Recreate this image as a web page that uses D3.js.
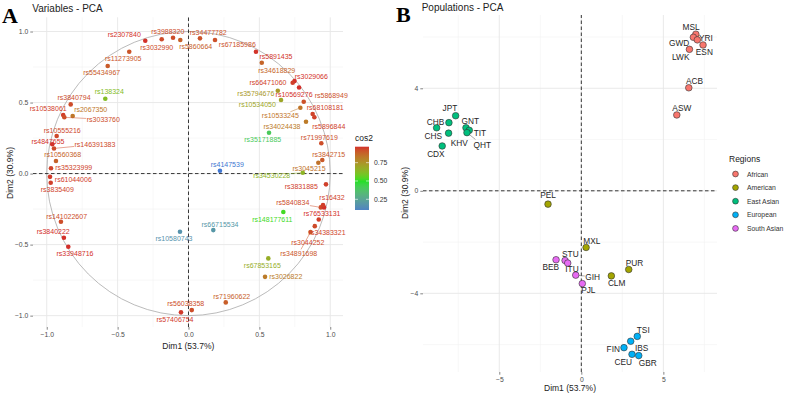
<!DOCTYPE html>
<html>
<head>
<meta charset="utf-8">
<script src="https://cdn.jsdelivr.net/npm/d3@7"></script>
<style>
  body { margin: 0; background: #fff; }
  svg text { font-family: "Liberation Sans", Arial, sans-serif; }
</style>
</head>
<body>
<svg id="chart" width="794" height="397"></svg>
<script>
//////////////////////////
// Data: variables PCA  //
//////////////////////////
const varNames = [
  "rs2307840", "rs3032990", "rs3988320", "rs5860664", "rs34477782", "rs67185986",
  "rs11273905", "rs55434967", "rs138324", "rs3840794", "rs10538061", "rs3033760",
  "rs2067350", "rs10555216", "rs4847655", "rs146391383", "rs10560368", "rs35323999",
  "rs61044006", "rs3835409", "rs141022607", "rs3840222", "rs33948716", "rs57406754",
  "rs56038358", "rs71960622", "rs3026822", "rs67853165", "rs34891698", "rs3044252",
  "rs34383321", "rs148177611", "rs5840834", "rs76533131", "rs16432", "rs3831885",
  "rs34530228", "rs3045215", "rs3842715", "rs71997619", "rs35171885", "rs34024438",
  "rs5896844", "rs68108181", "rs10533245", "rs5868949", "rs10534050", "rs35794676",
  "rs10569276", "rs3029066", "rs66471060", "rs34618829", "rs5891435", "rs4147539",
  "rs66715534", "rs10580743"
];
const varDim1 = [
  -0.305, -0.189, -0.109, -0.058, 0.081, 0.187,
  -0.418, -0.570, -0.587, -0.831, -0.884, -0.876,
  -0.817, -0.930, -0.961, -0.949, -0.935, -0.970,
  -0.977, -0.972, -0.900, -0.879, -0.848, -0.053,
  0.023, 0.263, 0.540, 0.563, 0.861, 0.891,
  0.919, 0.669, 0.933, 0.956, 0.949, 0.970,
  0.806, 0.916, 0.944, 0.937, 0.568, 0.829,
  0.888, 0.876, 0.789, 0.813, 0.653, 0.630,
  0.780, 0.748, 0.735, 0.517, 0.476, 0.222,
  0.175, -0.060
];
const varDim2 = [
  0.935, 0.945, 0.956, 0.940, 0.952, 0.940,
  0.858, 0.757, 0.527, 0.487, 0.412, 0.396,
  0.405, 0.264, 0.206, 0.177, 0.088, 0.037,
  -0.023, -0.065, -0.339, -0.452, -0.515, -0.977,
  -0.961, -0.907, -0.727, -0.597, -0.412, -0.370,
  -0.323, -0.271, -0.238, -0.238, -0.222, -0.076,
  0.006, 0.076, 0.095, 0.213, 0.287, 0.365,
  0.396, 0.419, 0.463, 0.506, 0.518, 0.583,
  0.606, 0.651, 0.639, 0.780, 0.858, 0.020,
  -0.398, -0.410
];
const cos2Ticks = [0.25, 0.5, 0.75];
const cos2Range = [0.104, 0.968];

////////////////////////////
// Data: populations PCA  //
////////////////////////////
const popNames = [
  "MSL", "GWD", "YRI", "ESN", "LWK", "ACB", "ASW",
  "PEL", "MXL", "PUR", "CLM",
  "JPT", "CHB", "CHS", "KHV", "CDX", "GNT", "TIT", "QHT",
  "TSI", "IBS", "FIN", "CEU", "GBR",
  "BEB", "STU", "ITU", "GIH", "PJL"
];
const popRegion = [
  "African", "African", "African", "African", "African", "African", "African",
  "American", "American", "American", "American",
  "East Asian", "East Asian", "East Asian", "East Asian", "East Asian", "East Asian", "East Asian", "East Asian",
  "European", "European", "European", "European", "European",
  "South Asian", "South Asian", "South Asian", "South Asian", "South Asian"
];
const popDim1 = [
  6.98, 6.83, 7.07, 7.42, 6.59, 6.55, 5.82,
  -2.03, 0.29, 2.89, 1.83,
  -7.66, -8.07, -8.82, -8.09, -8.48, -7.03, -6.83, -6.97,
  3.41, 3.01, 2.60, 3.09, 3.50,
  -1.54, -0.99, -0.83, -0.34, 0.06
];
const popDim2 = [
  6.11, 5.99, 5.89, 5.69, 5.52, 4.02, 2.96,
  -0.52, -2.21, -3.07, -3.32,
  2.93, 2.66, 2.46, 2.25, 1.75, 2.46, 2.36, 2.27,
  -5.68, -5.87, -6.12, -6.38, -6.43,
  -2.69, -2.72, -2.82, -3.29, -3.62
];
const regions = ["African", "American", "East Asian", "European", "South Asian"];
const regionColors = ["#F8766D", "#A3A500", "#00BF7D", "#00B0F6", "#E76BF3"];

// label placement (pixel nudge from the point, like ggrepel gave)
const varNudge = {
  rs2307840: [-21, -6.4], rs3032990: [-5, 8], rs3988320: [-5.3, -6], rs5860664: [15.4, 6],
  rs34477782: [8.3, -5.6], rs67185986: [22.3, 4.3], rs11273905: [-6, 6.6], rs55434967: [-6, 6.3],
  rs138324: [4, -7], rs3840794: [3.3, -6.6], rs10538061: [-15, -6.7], rs3033760: [39, 2],
  rs2067350: [18, -7], rs10555216: [5.6, -6], rs4847655: [-4.3, -2.8], rs146391383: [41, -4],
  rs10560368: [6.7, -6.7], rs35323999: [22.7, -1], rs61044006: [23.3, 2.3], rs3835409: [6.6, 6.6],
  rs141022607: [5.7, -5.7], rs3840222: [-10.7, -6.7], rs33948716: [6.7, 6.6], rs57406754: [-6, 6.7],
  rs56038358: [-6, -6.7], rs71960622: [6, -6.3], rs3026822: [20.7, -0.7], rs67853165: [-6, 6.7],
  rs34891698: [-11.8, 21.3], rs3044252: [-7, 16.3], rs34383321: [8.3, 13], rs148177611: [-11, 7],
  rs5840834: [-28, -4.6], rs76533131: [-2, 6], rs16432: [9, -7.7], rs3831885: [-24.7, 2.4],
  rs34530228: [-31, 2.3], rs3045215: [-9.3, 5.8], rs3842715: [6.4, -6], rs71997619: [-2, -5.6],
  rs35171885: [-6.3, 6.3], rs34024438: [-24, 5], rs5896844: [14.4, 9.4], rs68108181: [12.6, -6.3],
  rs10533245: [-20, 8], rs5868949: [27.5, -6], rs10534050: [-23.7, 4.3], rs35794676: [-22, 2.6],
  rs10569276: [-5, 6.8], rs3029066: [16.8, -4.5], rs66471060: [-24.7, 0], rs34618829: [15, 7.3],
  rs5891435: [20, 5], rs4147539: [7.3, -6.7], rs66715534: [6.7, -6], rs10580743: [-6, 6.6]
};
const varSegments = ["rs3033760", "rs146391383", "rs34530228", "rs5840834", "rs10533245", "rs34891698"];

const popNudge = {
  MSL: [-4.7, -7.7], GWD: [-14.3, 5.3], YRI: [8.7, -1.7], ESN: [1.3, 7.3], LWK: [-8.7, 7.3],
  ACB: [5.7, -7], ASW: [5, -6.7], PEL: [0, -9], MXL: [5.7, -6.7], PUR: [5.7, -6.7], CLM: [5.3, 7],
  JPT: [-5.7, -7.3], CHB: [-13.3, -1], CHS: [-3.3, 8.3], KHV: [10.7, 9.7], CDX: [-6.3, 8],
  GNT: [4.3, -7], TIT: [10.7, 2.3], QHT: [15.3, 12.3],
  TSI: [6, -6.7], IBS: [11, 6.7], FIN: [-10.7, 1.7], CEU: [-8.7, 7.3], GBR: [9, 7.3],
  BEB: [-5.3, 7], STU: [5.3, -6.7], ITU: [4.3, 5.7], GIH: [17, 1.7], PJL: [6, 6.7]
};
const popSegments = ["QHT", "GIH"];

const svg = d3.select("#chart");
const gridMajor = "#e6e6e6", gridMinor = "#f1f1f1", tickCol = "#4d4d4d";

// segment from point to the edge of a label's box
function leader(g, px, py, textNode, color, r) {
  const b = textNode.getBBox();
  const cx = b.x + b.width / 2, cy = b.y + b.height / 2;
  const dx = cx - px, dy = cy - py;
  const s = Math.min((b.width / 2 + 0.5) / Math.abs(dx || 1e-6), (b.height / 2 + 0.5) / Math.abs(dy || 1e-6));
  if (s >= 1) return;
  const len = Math.hypot(dx, dy);
  g.append("line")
    .attr("x1", px + (dx / len) * r).attr("y1", py + (dy / len) * r)
    .attr("x2", cx - s * dx).attr("y2", cy - s * dy)
    .attr("stroke", color).attr("stroke-width", 0.5);
}

function drawGrid(g, x, y, xMajor, xMinor, yMajor, yMinor) {
  const [x0, x1] = x.range(), [y0, y1] = y.range();
  g.selectAll(".xmin").data(xMinor).join("line")
    .attr("x1", x).attr("x2", x).attr("y1", y0).attr("y2", y1)
    .attr("stroke", gridMinor).attr("stroke-width", 0.6);
  g.selectAll(".ymin").data(yMinor).join("line")
    .attr("y1", y).attr("y2", y).attr("x1", x0).attr("x2", x1)
    .attr("stroke", gridMinor).attr("stroke-width", 0.6);
  g.selectAll(".xmaj").data(xMajor).join("line")
    .attr("x1", x).attr("x2", x).attr("y1", y0).attr("y2", y1)
    .attr("stroke", gridMajor).attr("stroke-width", 0.9);
  g.selectAll(".ymaj").data(yMajor).join("line")
    .attr("y1", y).attr("y2", y).attr("x1", x0).attr("x2", x1)
    .attr("stroke", gridMajor).attr("stroke-width", 0.9);
}

function drawAxes(g, x, y, xTicks, yTicks, fmt) {
  const xa = g.append("g")
    .attr("transform", `translate(0,${y.range()[0]})`)
    .call(d3.axisBottom(x).tickValues(xTicks).tickFormat(fmt).tickSize(2.7).tickSizeOuter(0).tickPadding(2));
  const ya = g.append("g")
    .attr("transform", `translate(${x.range()[0]},0)`)
    .call(d3.axisLeft(y).tickValues(yTicks).tickFormat(fmt).tickSize(2.7).tickSizeOuter(0).tickPadding(2));
  [xa, ya].forEach((a) => {
    a.select(".domain").remove();
    a.selectAll(".tick line").attr("stroke", "#333").attr("stroke-width", 0.6);
    a.selectAll(".tick text").attr("fill", tickCol).style("font-size", "6.8px")
      .style("font-family", "Liberation Sans, Arial, sans-serif");
  });
}

function dashedZero(g, x, y) {
  g.append("line").attr("x1", x(0)).attr("x2", x(0)).attr("y1", y.range()[0]).attr("y2", y.range()[1])
    .attr("stroke", "#222").attr("stroke-width", 0.9).attr("stroke-dasharray", "3.5,2.5");
  g.append("line").attr("y1", y(0)).attr("y2", y(0)).attr("x1", x.range()[0]).attr("x2", x.range()[1])
    .attr("stroke", "#222").attr("stroke-width", 0.9).attr("stroke-dasharray", "3.5,2.5");
}

//////////////////////////////
// Panel A: variables - PCA //
//////////////////////////////
const xA = d3.scaleLinear().domain([-1.097, 1.09]).range([33, 343]);
const yA = d3.scaleLinear().domain([-1.08, 1.1]).range([327, 17.3]);
const cos2Color = d3.scaleLinear()
  .domain([0.03, 0.5, 0.97])
  .range(["#3a72d8", "#22e022", "#d32f2a"])
  .interpolate(d3.interpolateLab)
  .clamp(true);

// cos2 on the Dim1-Dim2 plane is the squared length of each arrow
const vars = varNames.map((n, i) => ({
  name: n, d1: varDim1[i], d2: varDim2[i],
  cos2: varDim1[i] * varDim1[i] + varDim2[i] * varDim2[i]
}));

const gA = svg.append("g");
drawGrid(gA, xA, yA, [-1, -0.5, 0, 0.5, 1], [-0.75, -0.25, 0.25, 0.75],
  [-1, -0.5, 0, 0.5, 1], [-0.75, -0.25, 0.25, 0.75]);
drawAxes(gA, xA, yA, [-1, -0.5, 0, 0.5, 1], [-1, -0.5, 0, 0.5, 1], d3.format(".1f"));

// correlation circle
gA.append("ellipse")
  .attr("cx", xA(0)).attr("cy", yA(0))
  .attr("rx", xA(1) - xA(0)).attr("ry", yA(0) - yA(1))
  .attr("fill", "none").attr("stroke", "#aaaaaa").attr("stroke-width", 0.8);
dashedZero(gA, xA, yA);

gA.append("g").selectAll("circle").data(vars).join("circle")
  .attr("cx", (d) => xA(d.d1)).attr("cy", (d) => yA(d.d2))
  .attr("r", 2.3).attr("fill", (d) => cos2Color(d.cos2));

const segA = gA.append("g");
gA.append("g").selectAll("text").data(vars).join("text")
  .attr("x", (d) => xA(d.d1) + varNudge[d.name][0])
  .attr("y", (d) => yA(d.d2) + varNudge[d.name][1])
  .attr("text-anchor", "middle").attr("dominant-baseline", "central")
  .style("font-size", "7px")
  .attr("fill", (d) => cos2Color(d.cos2))
  .text((d) => d.name)
  .each(function (d) {
    if (varSegments.includes(d.name)) leader(segA, xA(d.d1), yA(d.d2), this, cos2Color(d.cos2), 2.3);
  });

// titles
svg.append("text").attr("x", 2).attr("y", 22.5).text("A")
  .style("font-family", "Liberation Serif, Times New Roman, serif").style("font-weight", "bold").style("font-size", "22px");
svg.append("text").attr("x", 32.3).attr("y", 12).text("Variables - PCA").style("font-size", "10px").attr("fill", "#222");
svg.append("text").attr("x", 188.3).attr("y", 349).attr("text-anchor", "middle").text("Dim1 (53.7%)")
  .style("font-size", "8.5px").attr("fill", "#222");
svg.append("text").attr("transform", "translate(12.5,173) rotate(-90)").attr("text-anchor", "middle")
  .text("Dim2 (30.9%)").style("font-size", "8.5px").attr("fill", "#222");

// cos2 colour bar
const barX = 355, barW = 14;
const yBar = d3.scaleLinear().domain(cos2Range).range([210, 146.7]);
const grad = svg.append("defs").append("linearGradient")
  .attr("id", "cos2grad").attr("x1", 0).attr("x2", 0).attr("y1", 1).attr("y2", 0);
d3.range(0, 1.0001, 0.05).forEach((t) => {
  const v = cos2Range[0] + t * (cos2Range[1] - cos2Range[0]);
  grad.append("stop").attr("offset", t).attr("stop-color", cos2Color(v));
});
svg.append("rect").attr("x", barX).attr("y", yBar(cos2Range[1]))
  .attr("width", barW).attr("height", yBar(cos2Range[0]) - yBar(cos2Range[1]))
  .attr("fill", "url(#cos2grad)");
cos2Ticks.forEach((t) => {
  svg.append("line").attr("x1", barX).attr("x2", barX + 3).attr("y1", yBar(t)).attr("y2", yBar(t))
    .attr("stroke", "#fff").attr("stroke-width", 0.6);
  svg.append("line").attr("x1", barX + barW - 3).attr("x2", barX + barW).attr("y1", yBar(t)).attr("y2", yBar(t))
    .attr("stroke", "#fff").attr("stroke-width", 0.6);
  svg.append("text").attr("x", barX + barW + 5).attr("y", yBar(t)).attr("dominant-baseline", "central")
    .text(d3.format(".2f")(t)).style("font-size", "6.8px").attr("fill", "#333");
});
svg.append("text").attr("x", barX).attr("y", 141).text("cos2").style("font-size", "8.5px").attr("fill", "#222");

////////////////////////////////
// Panel B: populations - PCA //
////////////////////////////////
const xB = d3.scaleLinear().domain([-9.65, 8.27]).range([423, 717]);
const yB = d3.scaleLinear().domain([-7.07, 6.86]).range([372, 15]);
const regionColor = d3.scaleOrdinal().domain(regions).range(regionColors);

const pops = popNames.map((n, i) => ({ name: n, region: popRegion[i], d1: popDim1[i], d2: popDim2[i] }));

const gB = svg.append("g");
drawGrid(gB, xB, yB, [-5, 0, 5], [-7.5, -2.5, 2.5, 7.5], [-4, 0, 4], [-6, -2, 2, 6]);
drawAxes(gB, xB, yB, [-5, 0, 5], [-4, 0, 4], d3.format("d"));
dashedZero(gB, xB, yB);

const segB = gB.append("g");
gB.append("g").selectAll("circle").data(pops).join("circle")
  .attr("cx", (d) => xB(d.d1)).attr("cy", (d) => yB(d.d2))
  .attr("r", 3.3).attr("fill", (d) => regionColor(d.region))
  .attr("stroke", "#333").attr("stroke-width", 0.6);

gB.append("g").selectAll("text").data(pops).join("text")
  .attr("x", (d) => xB(d.d1) + popNudge[d.name][0])
  .attr("y", (d) => yB(d.d2) + popNudge[d.name][1])
  .attr("text-anchor", "middle").attr("dominant-baseline", "central")
  .style("font-size", "8.3px").attr("fill", "#262626")
  .text((d) => d.name)
  .each(function (d) {
    if (popSegments.includes(d.name)) leader(segB, xB(d.d1), yB(d.d2), this, "#555", 3.3);
  });

svg.append("text").attr("x", 396).attr("y", 21.7).text("B")
  .style("font-family", "Liberation Serif, Times New Roman, serif").style("font-weight", "bold").style("font-size", "22px");
svg.append("text").attr("x", 421.7).attr("y", 11).text("Populations - PCA").style("font-size", "10px").attr("fill", "#222");
svg.append("text").attr("x", 570).attr("y", 391).attr("text-anchor", "middle").text("Dim1 (53.7%)")
  .style("font-size", "8.5px").attr("fill", "#222");
svg.append("text").attr("transform", "translate(407.5,193) rotate(-90)").attr("text-anchor", "middle")
  .text("Dim2 (30.9%)").style("font-size", "8.5px").attr("fill", "#222");

// regions legend
const legB = svg.append("g").attr("transform", "translate(729,0)");
legB.append("text").attr("x", 0).attr("y", 162).text("Regions").style("font-size", "8.5px").attr("fill", "#222");
regions.forEach((r, i) => {
  const yy = 174 + i * 13.6;
  legB.append("circle").attr("cx", 6.5).attr("cy", yy).attr("r", 2.9)
    .attr("fill", regionColor(r)).attr("stroke", "#333").attr("stroke-width", 0.6);
  legB.append("text").attr("x", 18).attr("y", yy).attr("dominant-baseline", "central")
    .text(r).style("font-size", "6.8px").attr("fill", "#333");
});
</script>
</body>
</html>
